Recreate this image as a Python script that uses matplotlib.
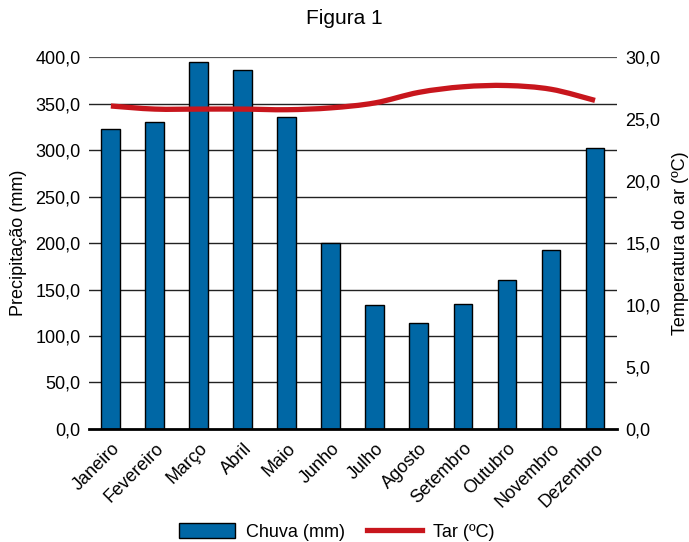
import numpy as np
import matplotlib
matplotlib.use("Agg")
import matplotlib.pyplot as plt
from matplotlib.path import Path
from matplotlib.patches import PathPatch, Patch
from matplotlib.lines import Line2D

plt.rcParams['font.family'] = ['Liberation Sans', 'DejaVu Sans']

meses = ['Janeiro', 'Fevereiro', 'Março', 'Abril', 'Maio', 'Junho', 'Julho',
         'Agosto', 'Setembro', 'Outubro', 'Novembro', 'Dezembro']
chuva = [323, 330, 395, 386, 335, 200, 133, 114, 134, 160, 192, 302]
tar = [26.05, 25.8, 25.8, 25.8, 25.75, 25.9, 26.3, 27.15, 27.6, 27.7, 27.4, 26.5]
ticks_chuva = [0, 50, 100, 150, 200, 250, 300, 350, 400]
ticks_tar = [0, 5, 10, 15, 20, 25, 30]

azul = '#0067a5'
vermelho = '#c8161d'

fig = plt.figure(figsize=(6.89, 5.42), dpi=100)
ax = fig.add_axes([0.129, 0.2085, 0.7665, 0.6863])
x = np.arange(len(meses))

ax.bar(x, chuva, width=0.43, color=azul, edgecolor='black', linewidth=1.0, zorder=3)
ax.set_xlim(-0.5, len(meses) - 0.5)
ax.set_ylim(0, 400)
ax.set_yticks(ticks_chuva)
ax.set_yticklabels([f'{v:.1f}'.replace('.', ',') for v in ticks_chuva], fontsize=13)
ax.set_xticks(x)
ax.set_xticklabels(meses, rotation=45, ha='right', rotation_mode='anchor', fontsize=13)
ax.tick_params(axis='both', length=0, pad=6)
ax.tick_params(axis='x', pad=8)
for v in ticks_chuva[1:]:
    ax.axhline(v, color='#555555' if v == 400 else '#222222',
               lw=1.6 if v == 400 else 1.0, zorder=1)
for s in ['left', 'right', 'top']:
    ax.spines[s].set_visible(False)
ax.spines['bottom'].set_linewidth(2)
ax.spines['bottom'].set_zorder(4)
ax.set_ylabel('Precipitação (mm)', fontsize=13, labelpad=6)

ax2 = ax.twinx()
ax2.set_ylim(0, 30)
ax2.set_yticks(ticks_tar)
ax2.set_yticklabels([f'{v:.1f}'.replace('.', ',') for v in ticks_tar], fontsize=13)
ax2.tick_params(axis='y', length=0, pad=6)
for s in ['left', 'right', 'top', 'bottom']:
    ax2.spines[s].set_visible(False)
ax2.set_ylabel('Temperatura do ar (ºC)', fontsize=13, labelpad=8)

# linha suavizada (Catmull-Rom em segmentos bezier)
pts = np.column_stack([x, tar])
verts = [pts[0]]
codes = [Path.MOVETO]
for i in range(len(pts) - 1):
    p0 = pts[i - 1] if i > 0 else pts[i]
    p1, p2 = pts[i], pts[i + 1]
    p3 = pts[i + 2] if i + 2 < len(pts) else pts[i + 1]
    verts += [p1 + (p2 - p0) / 6, p2 - (p3 - p1) / 6, p2]
    codes += [Path.CURVE4] * 3
ax2.add_patch(PathPatch(Path(verts, codes), facecolor='none', edgecolor=vermelho,
                        lw=3.8, capstyle='butt', zorder=5))

fig.suptitle('Figura 1', fontsize=15, y=0.983)

handles = [Patch(facecolor=azul, edgecolor='black', lw=1.0),
           Line2D([0], [0], color=vermelho, lw=3.8)]
fig.legend(handles, ['Chuva (mm)', 'Tar (ºC)'], loc='lower center',
           bbox_to_anchor=(0.489, -0.028), ncol=2, frameon=False, fontsize=13,
           handlelength=3.1, handleheight=0.9, columnspacing=1.2, handletextpad=0.6)

fig.savefig('out.png', dpi=100)
